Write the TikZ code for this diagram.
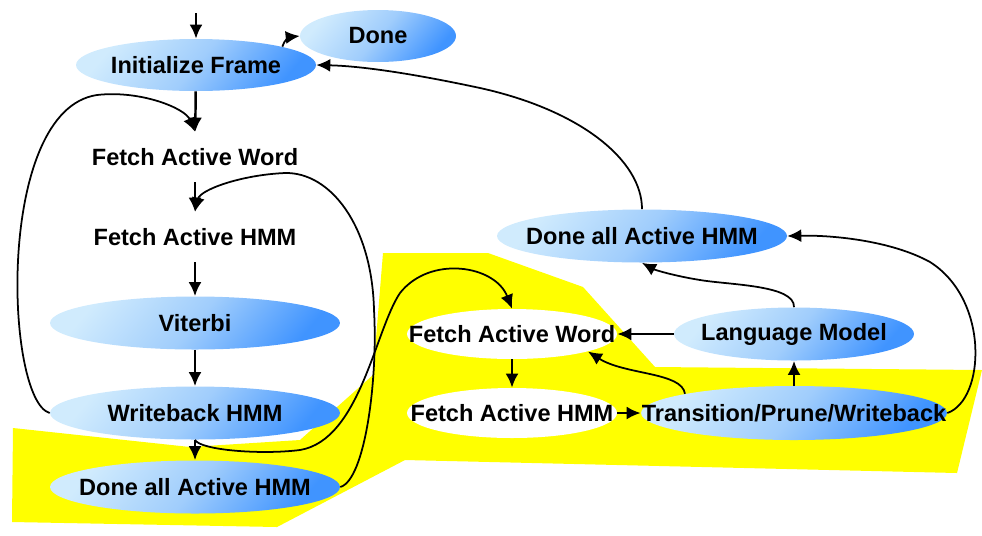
\documentclass[tikz,border=0pt]{standalone}
\usepackage{fontspec}
\setmainfont{Liberation Sans}
\usetikzlibrary{shapes.geometric,arrows.meta}
\definecolor{hmmlight}{RGB}{208,235,253}
\definecolor{hmmmid}{RGB}{160,205,252}
\definecolor{hmmdark}{RGB}{64,148,255}
\definecolor{hmmyellow}{RGB}{255,255,0}

\begin{document}
\begin{tikzpicture}[x=0.02cm,y=-0.02cm,
  >={Latex[length=2.8mm,width=2.6mm]},
  every node/.style={font=\fontsize{13.4}{16}\selectfont\bfseries},
  blob/.style={ellipse, inner sep=0pt, left color=hmmlight, right color=hmmdark, middle color=hmmmid, shading angle=50},
  fetch/.style={ellipse, inner sep=0pt, fill=white, minimum width=4.2cm, minimum height=1cm},
  flow/.style={->, line width=1.4pt},
  loop/.style={->, line width=1pt}]

\useasboundingbox (0,0) rectangle (982,535);

% yellow area
\fill[hmmyellow] (383,253) -- (488,253) -- (583,287) -- (655,367) -- (982,370) -- (957,473)
  -- (405,460) -- (277,527) -- (12,522) -- (13,428) -- (190,447) -- (300,440) -- (373,375) -- cycle;

% left column
\coordinate (entry) at (196,13);
\node[blob, minimum width=4.8cm, minimum height=1.04cm] (ini) at (196,65) {\makebox[0pt]{Initialize Frame}};
\node[blob, minimum width=3.12cm, minimum height=1.04cm] (done) at (378,36) {\makebox[0pt]{Done}};
\node[fetch] (fwL) at (195,157) {\makebox[0pt]{Fetch Active Word}};
\node[fetch] (fhL) at (195,237) {\makebox[0pt]{Fetch Active HMM}};
\node[blob, minimum width=5.8cm, minimum height=1.06cm] (vit) at (195,323) {\makebox[0pt]{Viterbi}};
\node[blob, minimum width=5.8cm, minimum height=1.06cm] (wb) at (195,413) {\makebox[0pt]{Writeback HMM}};
\node[blob, minimum width=5.8cm, minimum height=1.06cm] (dL) at (195,487) {\makebox[0pt]{Done all Active HMM}};

% right part
\node[blob, minimum width=5.8cm, minimum height=1.06cm] (dR) at (642,236) {\makebox[0pt]{Done all Active HMM}};
\node[fetch] (fwR) at (512,334) {\makebox[0pt]{Fetch Active Word}};
\node[fetch] (fhR) at (512,413) {\makebox[0pt]{Fetch Active HMM}};
\node[blob, minimum width=4.8cm, minimum height=1.06cm] (lm) at (794,334) {\makebox[0pt]{Language Model}};
\node[blob, minimum width=6.12cm, minimum height=1.08cm] (tpw) at (794,413) {\makebox[0pt]{Transition/Prune/Writeback}};

% straight arrows
\draw[flow] (entry) -- (ini);
\draw[flow] (ini) -- (fwL);
\draw[flow] (fwL) -- (fhL);
\draw[flow] (fhL) -- (vit);
\draw[flow] (vit) -- (wb);
\draw[flow] (wb) -- (dL);
\draw[flow] (fwR) -- (fhR);
\draw[flow] (fhR) -- (tpw);
\draw[flow] (tpw) -- (lm);
\draw[flow] (lm) -- (fwR);

% curved arrows
\draw[loop] (ini.12) .. controls (284,40) and (290,37) .. (done.west);
\draw[loop] (wb.west) .. controls (5,400) and (-5,110) .. (97,95)
  .. controls (140,90) and (185,108) .. (fwL.north);
\draw[loop] (dL.east) .. controls (365,480) and (378,380) .. (374,310)
  .. controls (372,225) and (330,172) .. (285,173)
  .. controls (240,175) and (200,190) .. (fhL.north);
\draw[loop] (wb.south) .. controls (200,450) and (260,455) .. (300,450)
  .. controls (360,440) and (375,330) .. (400,293)
  .. controls (430,255) and (495,265) .. (fwR.north);
\draw[loop] (dR.north) .. controls (642,160) and (580,110) .. (480,88)
  .. controls (410,73) and (360,66) .. (ini.east);
\draw[loop] (tpw.east) .. controls (985,400) and (990,300) .. (930,262)
  .. controls (890,240) and (830,235) .. (dR.east);
\draw[loop] (lm.north) .. controls (795,285) and (730,285) .. (700,280)
  .. controls (675,276) and (655,270) .. (dR.south);
\draw[loop] (tpw.170) .. controls (682,372) and (625,375) .. (fwR.-13);

\end{tikzpicture}
\end{document}
